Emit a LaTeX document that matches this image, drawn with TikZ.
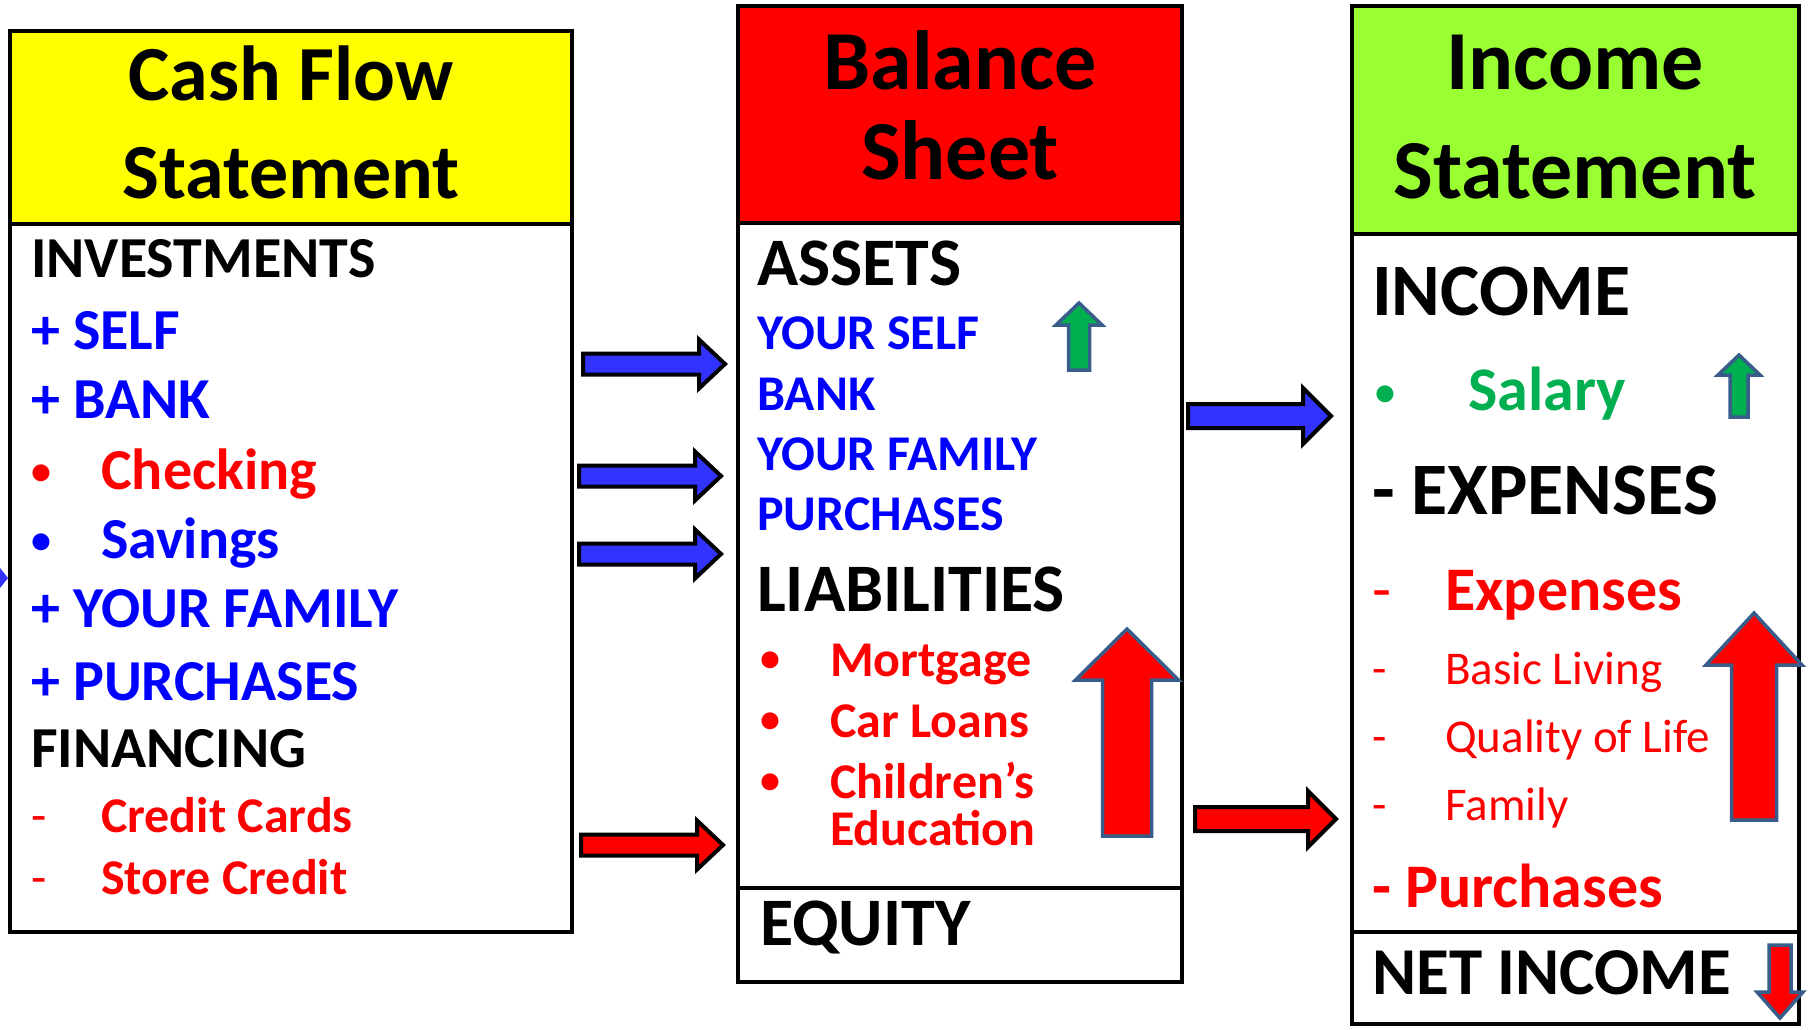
\documentclass[tikz,border=0pt]{standalone}
\usepackage{fontspec}
\setmainfont{Carlito}

\definecolor{cfyellow}{RGB}{255,255,0}
\definecolor{bsred}{RGB}{255,0,0}
\definecolor{isgreen}{RGB}{153,255,51}
\definecolor{txtblue}{RGB}{0,0,255}
\definecolor{txtred}{RGB}{255,0,0}
\definecolor{txtgreen}{RGB}{0,176,80}
\definecolor{arrblue}{RGB}{51,51,255}
\definecolor{arredge}{RGB}{56,93,138}

\newcommand{\sz}[1]{\fontsize{#1}{#1}\selectfont}
% small list bullet, width of the gap before the text
\newcommand{\bul}[1]{\makebox[#1][l]{\raisebox{5pt}{\sz{40}•}}}
% style, tail x, tail y, angle, length, shaft, head width, head length
\newcommand{\blockarrow}[8]{%
  \draw[#1,shift={(#2,#3)},rotate=#4]
    (0,{-#6/2}) -- ({#5-#8},{-#6/2}) -- ({#5-#8},{-#7/2}) -- (#5,0)
    -- ({#5-#8},{#7/2}) -- ({#5-#8},{#6/2}) -- (0,{#6/2}) -- cycle;}

\tikzset{
  box/.style={draw=black,line width=3.5pt},
  title/.style={anchor=base,inner sep=0pt,font=\bfseries},
  item/.style={anchor=base west,inner sep=0pt,font=\bfseries},
  bluearr/.style={draw=black,line width=4pt,fill=arrblue,miter limit=20},
  redarr/.style={draw=black,line width=4pt,fill=txtred,miter limit=20},
  uparr/.style={draw=arredge,line width=3.5pt,fill=#1,miter limit=20},
}

\begin{document}
\begin{tikzpicture}[x=1pt,y=-1pt]
\useasboundingbox (0,0) rectangle (1808,1030);

% cash flow statement
\draw[box,fill=cfyellow] (10,31) rectangle (572,224);
\draw[box] (10,224) rectangle (572,932);
\node[title] (cfA) at (291,101) {\sz{78}Cash Flow};
\node[title] (cfB) at (291,198) {\sz{78}Statement};
\node[item] (inv) at (31,277) {\sz{58}INVESTMENTS};
\node[item,text=txtblue] (self) at (31,349) {\sz{58}+ SELF};
\node[item,text=txtblue] (bank) at (31,418) {\sz{58}+ BANK};
\node[item,text=txtred] (chk) at (31,489) {\sz{58}\bul{70pt}Checking};
\node[item,text=txtblue] (sav) at (31,558) {\sz{58}\bul{70pt}Savings};
\node[item,text=txtblue] (fam) at (31,627) {\sz{58}+ YOUR FAMILY};
\node[item,text=txtblue] (pur) at (31,700) {\sz{58}+ PURCHASES};
\node[item] (fin) at (31,767) {\sz{58}FINANCING};
\node[item,text=txtred] (cc) at (31,832) {\sz{50}\makebox[70pt][l]{\mdseries-}Credit Cards};
\node[item,text=txtred] (sc) at (31,894) {\sz{50}\makebox[70pt][l]{\mdseries-}Store Credit};

% balance sheet
\draw[box,fill=bsred] (738,6) rectangle (1182,223);
\draw[box] (738,223) rectangle (1182,888);
\draw[box] (738,888) rectangle (1182,982);
\node[title] (bsA) at (960,90) {\sz{84}Balance};
\node[title] (bsB) at (960,179) {\sz{84}Sheet};
\node[item] (assets) at (757,285) {\sz{68}ASSETS};
\node[item,text=txtblue] (yself) at (757,349) {\sz{50}YOUR SELF};
\node[item,text=txtblue] (bank2) at (757,410) {\sz{50}BANK};
\node[item,text=txtblue] (yfam) at (757,470) {\sz{50}YOUR FAMILY};
\node[item,text=txtblue] (purch) at (757,530) {\sz{50}PURCHASES};
\node[item] (liab) at (757,611) {\sz{68}LIABILITIES};
\node[item,text=txtred] (mort) at (760,676) {\sz{50}\bul{70pt}Mortgage};
\node[item,text=txtred] (car) at (760,737) {\sz{50}\bul{70pt}Car Loans};
\node[item,text=txtred] (child) at (760,798) {\sz{50}\bul{70pt}Children’s};
\node[item,text=txtred] (edu) at (760,845) {\sz{50}\hspace*{70pt}Education};
\node[item] (equity) at (760,945) {\sz{68}EQUITY};

% income statement
\draw[box,fill=isgreen] (1352,6) rectangle (1799,234);
\draw[box] (1352,234) rectangle (1799,932);
\draw[box] (1352,932) rectangle (1799,1024);
\node[title] (isA) at (1575,90) {\sz{84}Income};
\node[title] (isB) at (1575,198) {\sz{84}Statement};
\node[item] (inc) at (1372,315) {\sz{74}INCOME};
\node[item,text=txtgreen] (sal) at (1375,410) {\sz{62}\bul{93pt}Salary};
\node[item] (exp) at (1372,514) {\sz{74}- EXPENSES};
\node[item,text=txtred] (expr) at (1372,610) {\sz{62}\makebox[73pt][l]{\mdseries-}Expenses};
\node[item,text=txtred,font=\mdseries] (basic) at (1372,684) {\sz{47}\makebox[73pt][l]{-}Basic Living};
\node[item,text=txtred,font=\mdseries] (qol) at (1372,752) {\sz{47}\makebox[73pt][l]{-}Quality of Life};
\node[item,text=txtred,font=\mdseries] (famr) at (1372,820) {\sz{47}\makebox[73pt][l]{-}Family};
\node[item,text=txtred] (purr) at (1372,907) {\sz{62}- Purchases};
\node[item] (net) at (1372,994) {\sz{67}NET INCOME};

% flow arrows
\blockarrow{bluearr}{583}{364}{0}{142}{21}{49}{26}
\blockarrow{bluearr}{579}{476}{0}{142}{21}{49}{26}
\blockarrow{bluearr}{579}{554}{0}{142}{21}{49}{26}
\blockarrow{redarr}{581}{845}{0}{142}{21}{49}{26}
\blockarrow{bluearr}{1188}{416}{0}{143}{24}{56}{28}
\blockarrow{redarr}{1195}{819}{0}{141}{24}{56}{28}
\fill[arrblue] (0,568) -- (8,578) -- (0,588) -- cycle;

% up / down markers
\blockarrow{uparr=txtgreen}{1079}{370}{90}{67}{21}{46}{22}
\blockarrow{uparr=txtgreen}{1739}{417}{90}{62}{18}{42}{20}
\blockarrow{uparr=txtred}{1127}{836}{90}{207}{49}{103}{51}
\blockarrow{uparr=txtred}{1754}{820}{90}{207}{45}{96}{52}
\blockarrow{uparr=txtred}{1780}{945}{-90}{73}{22}{46}{26}
\end{tikzpicture}
\end{document}
